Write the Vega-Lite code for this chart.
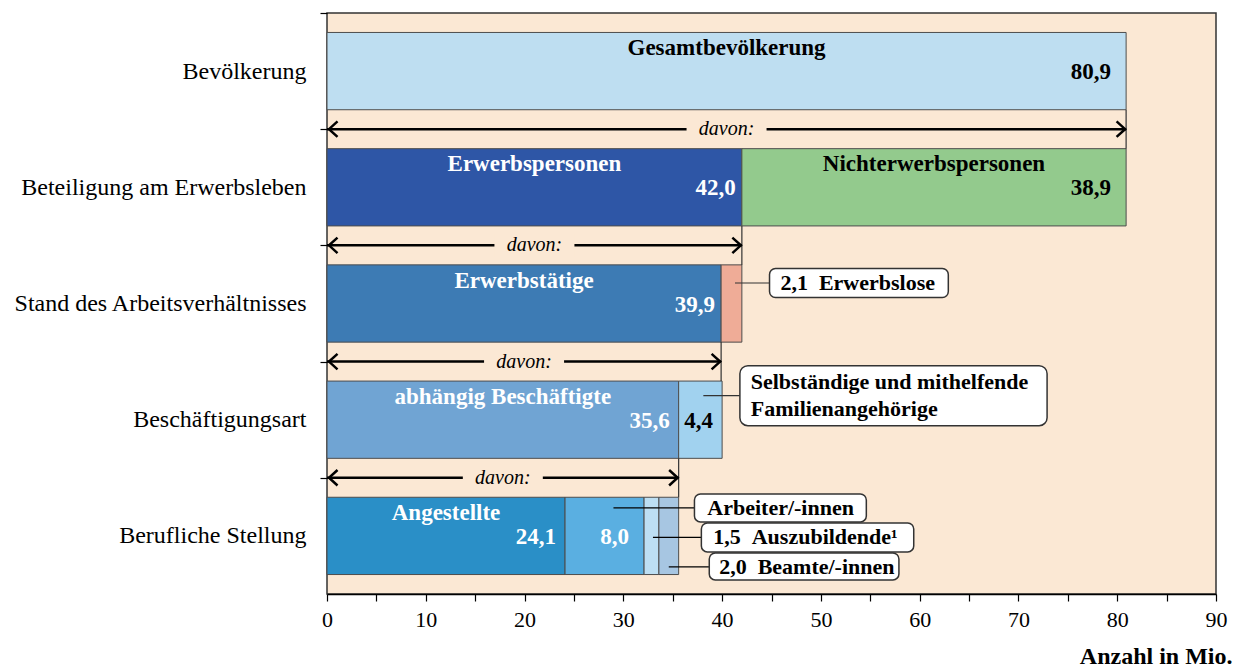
{
  "$schema": "https://vega.github.io/schema/vega-lite/v6.json",
  "width": 889,
  "height": 581,
  "autosize": {"type": "none"},
  "padding": {"left": 327, "top": 13, "right": 17, "bottom": 74},
  "background": "white",
  "config": {
    "view": {"fill": "#FBE8D4", "stroke": "#333333", "strokeWidth": 1.5},
    "locale": {"number": {"decimal": ",", "thousands": ".", "grouping": [3], "currency": ["", " €"]}},
    "text": {"font": "Liberation Serif"}
  },
  "datasets": {
    "segs": [
      {"row": "Bevölkerung", "seg": "Gesamtbevölkerung", "value": 80.9, "k": 1},
      {"row": "Beteiligung am Erwerbsleben", "seg": "Erwerbspersonen", "value": 42.0, "k": 1},
      {"row": "Beteiligung am Erwerbsleben", "seg": "Nichterwerbspersonen", "value": 38.9, "k": 2},
      {"row": "Stand des Arbeitsverhältnisses", "seg": "Erwerbstätige", "value": 39.9, "k": 1},
      {"row": "Stand des Arbeitsverhältnisses", "seg": "Erwerbslose", "value": 2.1, "k": 2},
      {"row": "Beschäftigungsart", "seg": "abhängig Beschäftigte", "value": 35.6, "k": 1},
      {"row": "Beschäftigungsart", "seg": "Selbständige und mithelfende Familienangehörige", "value": 4.4, "k": 2},
      {"row": "Berufliche Stellung", "seg": "Angestellte", "value": 24.1, "k": 1},
      {"row": "Berufliche Stellung", "seg": "Arbeiter/-innen", "value": 8.0, "k": 2},
      {"row": "Berufliche Stellung", "seg": "Auszubildende", "value": 1.5, "k": 3},
      {"row": "Berufliche Stellung", "seg": "Beamte/-innen", "value": 2.0, "k": 4}
    ],
    "arrows": [
      {"row": "Beteiligung am Erwerbsleben", "total": 80.9},
      {"row": "Stand des Arbeitsverhältnisses", "total": 42.0},
      {"row": "Beschäftigungsart", "total": 39.9},
      {"row": "Berufliche Stellung", "total": 35.6}
    ]
  },
  "layer": [
    {
      "data": {"name": "segs"},
      "mark": {"type": "bar", "stroke": "#4d4d4d", "strokeWidth": 1},
      "encoding": {
        "y": {
          "field": "row", "type": "nominal", "title": null,
          "scale": {"domain": ["Bevölkerung", "Beteiligung am Erwerbsleben", "Stand des Arbeitsverhältnisses", "Beschäftigungsart", "Berufliche Stellung"], "paddingInner": 0.335, "paddingOuter": 0.1675},
          "axis": {"title": null, "domain": false, "tickOffset": -58.1, "labelOffset": 58.1, "tickSize": 7, "tickColor": "#000000", "tickWidth": 1.2, "labelFont": "Liberation Serif", "labelFontSize": 24, "labelColor": "#000000", "labelPadding": 14, "labelLimit": 0}
        },
        "x": {
          "field": "value", "type": "quantitative", "stack": "zero", "title": "Anzahl in Mio.",
          "scale": {"domain": [0, 90], "nice": false},
          "axis": {"values": [0, 5, 10, 15, 20, 25, 30, 35, 40, 45, 50, 55, 60, 65, 70, 75, 80, 85, 90], "labelExpr": "datum.value % 10 === 0 ? datum.label : ''", "grid": false, "domainColor": "#000000", "domainWidth": 1.5, "tickColor": "#000000", "tickSize": 7, "tickWidth": 1.2, "labelFont": "Liberation Serif", "labelFontSize": 22, "labelColor": "#000000", "labelPadding": 8, "labelOverlap": false, "labelFlush": false, "title": "Anzahl in Mio.", "titleFont": "Liberation Serif", "titleFontSize": 24, "titleFontWeight": "bold", "titleColor": "#000000", "titleAnchor": "end", "titleAlign": "right", "titleX": 905, "titleY": 69, "titleBaseline": "alphabetic"}
        },
        "color": {
          "field": "seg", "type": "nominal", "legend": null,
          "scale": {
            "domain": ["Gesamtbevölkerung", "Erwerbspersonen", "Nichterwerbspersonen", "Erwerbstätige", "Erwerbslose", "abhängig Beschäftigte", "Selbständige und mithelfende Familienangehörige", "Angestellte", "Arbeiter/-innen", "Auszubildende", "Beamte/-innen"],
            "range": ["#BEDEF1", "#2E56A6", "#93CA8D", "#3D7BB4", "#EFAC97", "#70A4D3", "#A1D2EF", "#2A8FC7", "#5AAFE1", "#BDDFF3", "#A7C6E2"]
          }
        },
        "order": {"field": "k", "type": "quantitative"}
      }
    },
    {
      "data": {"name": "segs"},
      "mark": {"type": "text", "font": "Liberation Serif", "fontSize": 23, "fontWeight": "bold", "baseline": "middle", "align": "center", "dy": -23},
      "encoding": {
        "y": {"field": "row", "type": "nominal"},
        "x": {"field": "value", "type": "quantitative", "stack": "zero", "bandPosition": 0.5},
        "detail": {"field": "seg", "type": "nominal"},
        "order": {"field": "k", "type": "quantitative"},
        "text": {"condition": {"test": "indexof(['Gesamtbevölkerung','Erwerbspersonen','Nichterwerbspersonen','Erwerbstätige','abhängig Beschäftigte','Angestellte'], datum.seg) >= 0", "field": "seg", "type": "nominal"}, "value": ""},
        "color": {"condition": {"test": "datum.seg === 'Gesamtbevölkerung' || datum.seg === 'Nichterwerbspersonen'", "value": "#000000"}, "value": "#FFFFFF"}
      }
    },
    {
      "data": {"name": "segs"},
      "mark": {"type": "text", "font": "Liberation Serif", "fontSize": 23, "fontWeight": "bold", "baseline": "middle", "align": "right", "dx": -15, "dy": 1},
      "encoding": {
        "y": {"field": "row", "type": "nominal"},
        "x": {"field": "value", "type": "quantitative", "stack": "zero"},
        "detail": {"field": "seg", "type": "nominal"},
        "order": {"field": "k", "type": "quantitative"},
        "text": {"condition": {"test": "datum.seg === 'Gesamtbevölkerung' || datum.seg === 'Nichterwerbspersonen' || datum.seg === 'Arbeiter/-innen'", "field": "value", "type": "quantitative", "format": ".1f"}, "value": ""},
        "color": {"condition": {"test": "datum.seg === 'Gesamtbevölkerung' || datum.seg === 'Nichterwerbspersonen'", "value": "#000000"}, "value": "#FFFFFF"}
      }
    },
    {
      "data": {"name": "segs"},
      "mark": {"type": "text", "font": "Liberation Serif", "fontSize": 23, "fontWeight": "bold", "baseline": "middle", "align": "right", "dx": -6, "dy": 1, "color": "#FFFFFF"},
      "encoding": {
        "y": {"field": "row", "type": "nominal"},
        "x": {"field": "value", "type": "quantitative", "stack": "zero"},
        "detail": {"field": "seg", "type": "nominal"},
        "order": {"field": "k", "type": "quantitative"},
        "text": {"condition": {"test": "datum.seg === 'Erwerbspersonen' || datum.seg === 'Erwerbstätige'", "field": "value", "type": "quantitative", "format": ".1f"}, "value": ""}
      }
    },
    {
      "data": {"name": "segs"},
      "mark": {"type": "text", "font": "Liberation Serif", "fontSize": 23, "fontWeight": "bold", "baseline": "middle", "align": "right", "dx": -9, "dy": 1},
      "encoding": {
        "y": {"field": "row", "type": "nominal"},
        "x": {"field": "value", "type": "quantitative", "stack": "zero"},
        "detail": {"field": "seg", "type": "nominal"},
        "order": {"field": "k", "type": "quantitative"},
        "text": {"condition": {"test": "datum.seg === 'abhängig Beschäftigte' || datum.seg === 'Angestellte' || datum.seg === 'Selbständige und mithelfende Familienangehörige'", "field": "value", "type": "quantitative", "format": ".1f"}, "value": ""},
        "color": {"condition": {"test": "datum.seg === 'Selbständige und mithelfende Familienangehörige'", "value": "#000000"}, "value": "#FFFFFF"}
      }
    },
    {
      "data": {"name": "arrows"},
      "mark": {"type": "tick", "orient": "vertical", "color": "#333333", "thickness": 1.2, "size": 39, "yOffset": -58.1, "opacity": 1},
      "encoding": {
        "y": {"field": "row", "type": "nominal"},
        "x": {"field": "total", "type": "quantitative"}
      }
    },
    {
      "data": {"name": "arrows"},
      "mark": {"type": "rule", "color": "#000000", "strokeWidth": 2.5, "yOffset": -19.5},
      "encoding": {
        "y": {"field": "row", "type": "nominal", "bandPosition": 0},
        "x": {"field": "total", "type": "quantitative"},
        "x2": {"datum": 0}
      }
    },
    {
      "data": {"name": "arrows"},
      "mark": {"type": "point", "shape": "M-1,-0.3L1,-0.3L1,0.3L-1,0.3Z", "size": 6400, "filled": true, "fill": "#FBE8D4", "strokeWidth": 0, "opacity": 1, "yOffset": -19.5},
      "encoding": {
        "y": {"field": "row", "type": "nominal", "bandPosition": 0},
        "x": {"field": "total", "type": "quantitative", "stack": "zero", "bandPosition": 0.5},
        "detail": {"field": "row", "type": "nominal"}
      }
    },
    {
      "data": {"name": "arrows"},
      "mark": {"type": "text", "text": "davon:", "font": "Liberation Serif", "fontSize": 20, "fontStyle": "italic", "baseline": "middle", "align": "center", "color": "#000000", "yOffset": -19.5},
      "encoding": {
        "y": {"field": "row", "type": "nominal", "bandPosition": 0},
        "x": {"field": "total", "type": "quantitative", "stack": "zero", "bandPosition": 0.5},
        "detail": {"field": "row", "type": "nominal"}
      }
    },
    {
      "data": {"name": "arrows"},
      "mark": {"type": "point", "shape": "M1.1,-1L0,0L1.1,1", "size": 240, "filled": false, "stroke": "#000000", "strokeWidth": 2.5, "opacity": 1, "yOffset": -19.5, "xOffset": 2},
      "encoding": {
        "y": {"field": "row", "type": "nominal", "bandPosition": 0},
        "x": {"datum": 0, "type": "quantitative"}
      }
    },
    {
      "data": {"name": "arrows"},
      "mark": {"type": "point", "shape": "M-1.1,-1L0,0L-1.1,1", "size": 240, "filled": false, "stroke": "#000000", "strokeWidth": 2.5, "opacity": 1, "yOffset": -19.5, "xOffset": -1},
      "encoding": {
        "y": {"field": "row", "type": "nominal", "bandPosition": 0},
        "x": {"field": "total", "type": "quantitative"}
      }
    },
    {
      "data": {"values": [{"row": "Stand des Arbeitsverhältnisses", "x0": 44.8, "x1": 62.9, "l0": 41.3, "tx": 45.9, "label": "2,1\u00a0\u00a0Erwerbslose"}]},
      "layer": [
        {"mark": {"type": "rule", "color": "#333333", "strokeWidth": 1.2, "yOffset": -20.5},
         "encoding": {"y": {"field": "row", "type": "nominal"}, "x": {"field": "l0", "type": "quantitative"}, "x2": {"field": "x0"}}},
        {"mark": {"type": "bar", "height": 29, "yOffset": -20.5, "cornerRadius": 6, "fill": "#FFFFFF", "stroke": "#333333", "strokeWidth": 1.5},
         "encoding": {"y": {"field": "row", "type": "nominal"}, "x": {"field": "x0", "type": "quantitative"}, "x2": {"field": "x1"}}},
        {"mark": {"type": "text", "font": "Liberation Serif", "fontSize": 22, "fontWeight": "bold", "align": "left", "baseline": "middle", "dy": -20.5, "color": "#000000"},
         "encoding": {"y": {"field": "row", "type": "nominal"}, "x": {"field": "tx", "type": "quantitative"}, "text": {"field": "label", "type": "nominal"}}}
      ]
    },
    {
      "data": {"values": [{"row": "Beschäftigungsart", "x0": 41.8, "x1": 72.9, "l0": 38.1, "tx": 42.9, "label": ["Selbständige und mithelfende", "Familienangehörige"]}]},
      "layer": [
        {"mark": {"type": "rule", "color": "#333333", "strokeWidth": 1.2, "yOffset": -24},
         "encoding": {"y": {"field": "row", "type": "nominal"}, "x": {"field": "l0", "type": "quantitative"}, "x2": {"field": "x0"}}},
        {"mark": {"type": "bar", "height": 60, "yOffset": -24, "cornerRadius": 8, "fill": "#FFFFFF", "stroke": "#333333", "strokeWidth": 1.5},
         "encoding": {"y": {"field": "row", "type": "nominal"}, "x": {"field": "x0", "type": "quantitative"}, "x2": {"field": "x1"}}},
        {"mark": {"type": "text", "font": "Liberation Serif", "fontSize": 22, "fontWeight": "bold", "align": "left", "baseline": "middle", "dy": -37.5, "lineHeight": 27, "color": "#000000"},
         "encoding": {"y": {"field": "row", "type": "nominal"}, "x": {"field": "tx", "type": "quantitative"}, "text": {"field": "label", "type": "nominal"}}}
      ]
    },
    {
      "data": {"values": [{"row": "Berufliche Stellung", "x0": 37.2, "x1": 54.6, "l0": 29.0, "tx": 38.5, "label": "Arbeiter/-innen"}]},
      "layer": [
        {"mark": {"type": "rule", "color": "#000000", "strokeWidth": 1.2, "yOffset": -28},
         "encoding": {"y": {"field": "row", "type": "nominal"}, "x": {"field": "l0", "type": "quantitative"}, "x2": {"field": "x0"}}},
        {"mark": {"type": "bar", "height": 28, "yOffset": -28, "cornerRadius": 6, "fill": "#FFFFFF", "stroke": "#333333", "strokeWidth": 1.5},
         "encoding": {"y": {"field": "row", "type": "nominal"}, "x": {"field": "x0", "type": "quantitative"}, "x2": {"field": "x1"}}},
        {"mark": {"type": "text", "font": "Liberation Serif", "fontSize": 22, "fontWeight": "bold", "align": "left", "baseline": "middle", "dy": -28, "color": "#000000"},
         "encoding": {"y": {"field": "row", "type": "nominal"}, "x": {"field": "tx", "type": "quantitative"}, "text": {"field": "label", "type": "nominal"}}}
      ]
    },
    {
      "data": {"values": [{"row": "Berufliche Stellung", "x0": 37.9, "x1": 59.4, "l0": 33.0, "tx": 39.1, "label": "1,5\u00a0\u00a0Auszubildende¹"}]},
      "layer": [
        {"mark": {"type": "rule", "color": "#000000", "strokeWidth": 1.2, "yOffset": 1.5},
         "encoding": {"y": {"field": "row", "type": "nominal"}, "x": {"field": "l0", "type": "quantitative"}, "x2": {"field": "x0"}}},
        {"mark": {"type": "bar", "height": 29, "yOffset": 1.5, "cornerRadius": 6, "fill": "#FFFFFF", "stroke": "#333333", "strokeWidth": 1.5},
         "encoding": {"y": {"field": "row", "type": "nominal"}, "x": {"field": "x0", "type": "quantitative"}, "x2": {"field": "x1"}}},
        {"mark": {"type": "text", "font": "Liberation Serif", "fontSize": 22, "fontWeight": "bold", "align": "left", "baseline": "middle", "dy": 1.5, "color": "#000000"},
         "encoding": {"y": {"field": "row", "type": "nominal"}, "x": {"field": "tx", "type": "quantitative"}, "text": {"field": "label", "type": "nominal"}}}
      ]
    },
    {
      "data": {"values": [{"row": "Berufliche Stellung", "x0": 38.7, "x1": 57.9, "l0": 34.6, "tx": 39.7, "label": "2,0\u00a0\u00a0Beamte/-innen"}]},
      "layer": [
        {"mark": {"type": "rule", "color": "#000000", "strokeWidth": 1.2, "yOffset": 31},
         "encoding": {"y": {"field": "row", "type": "nominal"}, "x": {"field": "l0", "type": "quantitative"}, "x2": {"field": "x0"}}},
        {"mark": {"type": "bar", "height": 27, "yOffset": 30.5, "cornerRadius": 6, "fill": "#FFFFFF", "stroke": "#333333", "strokeWidth": 1.5},
         "encoding": {"y": {"field": "row", "type": "nominal"}, "x": {"field": "x0", "type": "quantitative"}, "x2": {"field": "x1"}}},
        {"mark": {"type": "text", "font": "Liberation Serif", "fontSize": 22, "fontWeight": "bold", "align": "left", "baseline": "middle", "dy": 31, "color": "#000000"},
         "encoding": {"y": {"field": "row", "type": "nominal"}, "x": {"field": "tx", "type": "quantitative"}, "text": {"field": "label", "type": "nominal"}}}
      ]
    }
  ]
}
